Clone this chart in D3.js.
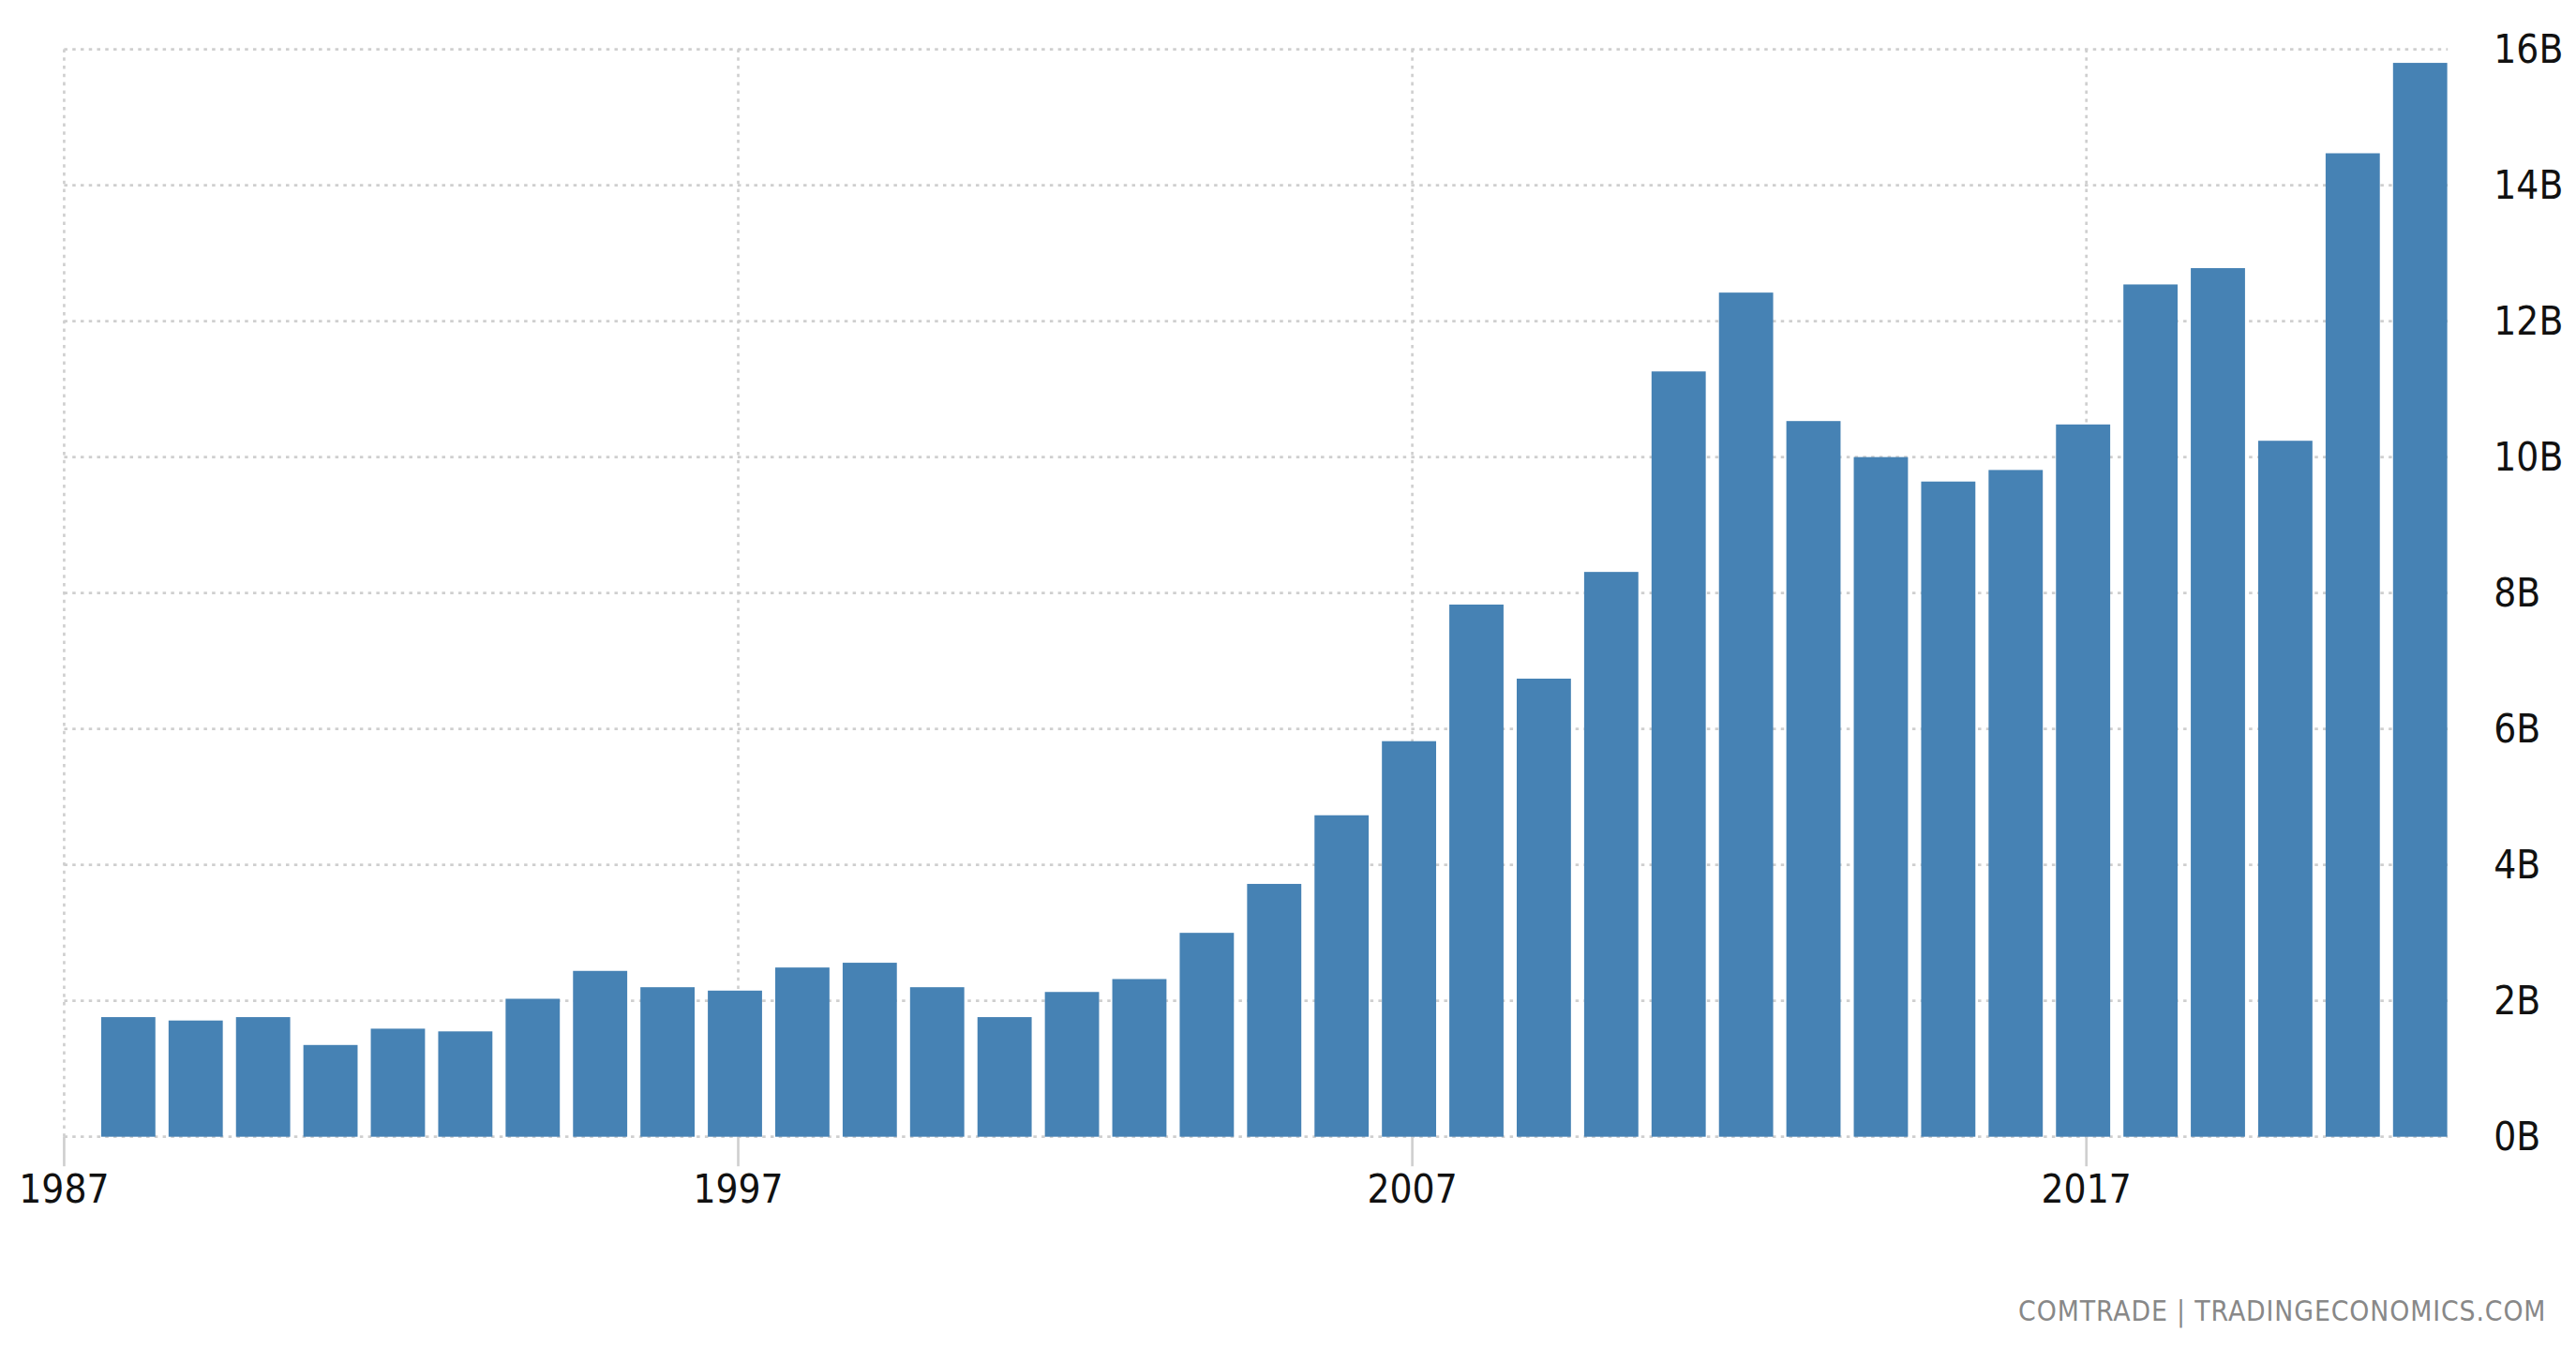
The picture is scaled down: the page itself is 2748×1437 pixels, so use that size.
<!DOCTYPE html>
<html>
<head>
<meta charset="utf-8">
<script src="https://cdn.jsdelivr.net/npm/d3@7"></script>
<style>
  html, body { margin: 0; padding: 0; background: #fff; }
  text { font-family: "Liberation Sans Narrow", "DejaVu Sans Condensed", sans-serif; }
</style>
</head>
<body>
<div id="canvas"></div>
<script>
const years = d3.range(1988, 2023);
const values = [1.76, 1.71, 1.76, 1.35, 1.59, 1.55, 2.03, 2.44, 2.2, 2.15,
  2.49, 2.56, 2.2, 1.76, 2.13, 2.32, 3.0, 3.72, 4.73, 5.82,
  7.83, 6.74, 8.31, 11.26, 12.42, 10.53, 10.0, 9.64, 9.81, 10.48,
  12.54, 12.78, 10.24, 14.47, 15.8];
const xTicks = [1987, 1997, 2007, 2017];
const yTicks = [0, 2, 4, 6, 8, 10, 12, 14, 16];
const source = "COMTRADE | TRADINGECONOMICS.COM";

// drawn in a 1568x820 coordinate space, scaled up to the window
const width = 1568, height = 820;
const svg = d3.select("#canvas").append("svg")
  .attr("width", 2748).attr("height", 1437)
  .attr("viewBox", `0 0 ${width} ${height}`);

const x = d3.scaleLinear().domain([1987, 2017]).range([39, 1270]);
const y = d3.scaleLinear().domain([0, 16]).range([692, 30]);
const right = 1490;
const bw = 33;
const grid = "#cfcfcf";

// horizontal grid
svg.append("g").selectAll("line").data(yTicks).enter().append("line")
  .attr("x1", 39).attr("x2", right)
  .attr("y1", d => y(d)).attr("y2", d => y(d))
  .attr("stroke", grid).attr("stroke-width", 1.5).attr("stroke-dasharray", "2,3");

// vertical grid
svg.append("g").selectAll("line").data(xTicks).enter().append("line")
  .attr("x1", d => x(d)).attr("x2", d => x(d))
  .attr("y1", y(16)).attr("y2", y(0))
  .attr("stroke", grid).attr("stroke-width", 1.5).attr("stroke-dasharray", "2,3");

// ticks below baseline
svg.append("g").selectAll("line").data(xTicks).enter().append("line")
  .attr("x1", d => x(d)).attr("x2", d => x(d))
  .attr("y1", y(0)).attr("y2", y(0) + 18)
  .attr("stroke", grid).attr("stroke-width", 1.5);

// bars
svg.append("g").selectAll("rect").data(values).enter().append("rect")
  .attr("x", (d, i) => x(years[i]) - 2 - bw / 2)
  .attr("y", d => y(d))
  .attr("width", bw)
  .attr("height", d => y(0) - y(d))
  .attr("fill", "#4682b4");

// y labels
svg.append("g").selectAll("text").data(yTicks).enter().append("text")
  .attr("x", 1518).attr("y", d => y(d) + 8)
  .attr("font-size", 24).attr("fill", "#111")
  .text(d => d + "B");

// x labels
svg.append("g").selectAll("text").data(xTicks).enter().append("text")
  .attr("x", d => x(d)).attr("y", 732)
  .attr("text-anchor", "middle")
  .attr("font-size", 24).attr("fill", "#111")
  .text(d => d);

svg.append("text")
  .attr("x", 1550).attr("y", 804)
  .attr("text-anchor", "end")
  .attr("font-size", 17).attr("fill", "#888")
  .attr("letter-spacing", 0.5)
  .text(source);
</script>
</body>
</html>
